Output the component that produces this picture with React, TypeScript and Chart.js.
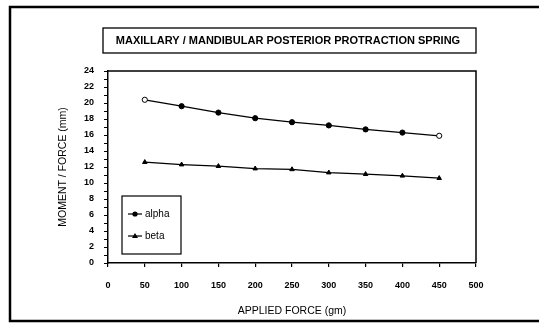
import React, { useEffect, useRef } from "react";
import { Chart, registerables } from "chart.js";

Chart.register(...registerables);

const forces = [50, 100, 150, 200, 250, 300, 350, 400, 450];
const alphaValues = [20.4, 19.6, 18.8, 18.1, 17.6, 17.2, 16.7, 16.3, 15.9];
const betaValues = [12.6, 12.3, 12.1, 11.8, 11.7, 11.3, 11.1, 10.9, 10.6];
const chartTitle = "MAXILLARY / MANDIBULAR POSTERIOR PROTRACTION SPRING";
const xTitle = "APPLIED FORCE (gm)";
const yTitle = "MOMENT / FORCE (mm)";
const seriesNames = ["alpha", "beta"];

const FONT = "'Liberation Sans', Arial, sans-serif";

const decorPlugin = {
  id: "decor",
  beforeDraw(chart: any) {
    const ctx = chart.ctx;
    ctx.save();
    ctx.fillStyle = "#fff";
    ctx.fillRect(0, 0, chart.width, chart.height);
    ctx.restore();
  },
  afterDraw(chart: any) {
    const ctx = chart.ctx;
    const ca = chart.chartArea;
    ctx.save();
    // outer frame
    ctx.strokeStyle = "#000";
    ctx.lineWidth = 2.5;
    ctx.strokeRect(10, 7, 540, 314);
    // plot frame (top & right)
    ctx.lineWidth = 1.5;
    ctx.beginPath();
    ctx.moveTo(ca.left, ca.top);
    ctx.lineTo(ca.right, ca.top);
    ctx.lineTo(ca.right, ca.bottom);
    ctx.stroke();
    // title box
    ctx.lineWidth = 1.3;
    ctx.strokeRect(103, 28, 373, 25);
    ctx.fillStyle = "#000";
    ctx.font = `bold 11px ${FONT}`;
    ctx.textAlign = "center";
    ctx.textBaseline = "middle";
    ctx.fillText(chartTitle, 288, 41);
    // legend
    ctx.lineWidth = 1.2;
    ctx.strokeRect(122, 196, 59, 58);
    const ys = [214, 236];
    const styles = ["circle", "triangle"];
    ctx.font = `10px ${FONT}`;
    ctx.textAlign = "left";
    for (let i = 0; i < 2; i++) {
      const y = ys[i];
      ctx.lineWidth = 1.2;
      ctx.beginPath();
      ctx.moveTo(128, y);
      ctx.lineTo(142, y);
      ctx.stroke();
      ctx.fillStyle = "#000";
      ctx.beginPath();
      if (styles[i] === "circle") {
        ctx.arc(135, y, 2.6, 0, Math.PI * 2);
      } else {
        ctx.moveTo(135, y - 3);
        ctx.lineTo(138, y + 2);
        ctx.lineTo(132, y + 2);
        ctx.closePath();
      }
      ctx.fill();
      ctx.fillText(seriesNames[i], 145, y + 0.5);
    }
    ctx.restore();
  },
};

export default function App() {
  const ref = useRef<HTMLCanvasElement>(null);
  useEffect(() => {
    document.body.style.margin = "0";
    const canvas = ref.current!;
    const chart = new Chart(canvas, {
      type: "line",
      data: {
        datasets: [
          {
            label: seriesNames[0],
            data: forces.map((x, i) => ({ x, y: alphaValues[i] })),
            borderColor: "#000",
            borderWidth: 1.2,
            pointStyle: "circle",
            pointRadius: 2.6,
            pointBorderWidth: 1,
            pointBorderColor: "#000",
            pointBackgroundColor: forces.map((_, i) =>
              i === 0 || i === forces.length - 1 ? "#fff" : "#000"
            ),
            tension: 0,
          },
          {
            label: seriesNames[1],
            data: forces.map((x, i) => ({ x, y: betaValues[i] })),
            borderColor: "#000",
            borderWidth: 1.2,
            pointStyle: "triangle",
            pointRadius: 2.6,
            pointBorderWidth: 1,
            pointBorderColor: "#000",
            pointBackgroundColor: "#000",
            tension: 0,
          },
        ],
      },
      options: {
        responsive: false,
        animation: false,
        devicePixelRatio: 1,
        layout: { padding: { left: 55, top: 71, right: 63, bottom: 4 } },
        plugins: { legend: { display: false }, tooltip: { enabled: false }, title: { display: false } },
        scales: {
          x: {
            type: "linear",
            min: 0,
            max: 500,
            afterFit: (s: any) => {
              s.height = 58;
            },
            ticks: {
              stepSize: 50,
              color: "#000",
              padding: 13,
              maxRotation: 0,
              autoSkip: false,
              font: { family: FONT, size: 9, weight: "bold" },
            },
            grid: {
              drawOnChartArea: false,
              drawTicks: true,
              tickLength: 4,
              color: "#000",
              lineWidth: 1.2,
            },
            border: { display: true, color: "#000", width: 1.5 },
            title: {
              display: true,
              text: xTitle,
              color: "#000",
              padding: { top: 0, bottom: 4 },
              font: { family: FONT, size: 10.5 },
            },
          },
          y: {
            type: "linear",
            min: 0,
            max: 24,
            afterFit: (s: any) => {
              s.width = 53;
            },
            ticks: {
              stepSize: 1,
              autoSkip: false,
              color: "#000",
              padding: 10,
              font: { family: FONT, size: 9, weight: "bold" },
              callback: (v: any) => (Number(v) % 2 === 0 ? String(v) : ""),
            },
            grid: {
              drawOnChartArea: false,
              drawTicks: true,
              tickLength: 4,
              color: "#000",
              lineWidth: 1,
            },
            border: { display: true, color: "#000", width: 1.5 },
            title: {
              display: true,
              text: yTitle,
              color: "#000",
              padding: { top: 2, bottom: 0 },
              font: { family: FONT, size: 10.5 },
            },
          },
        },
      },
      plugins: [decorPlugin],
    } as any);
    return () => chart.destroy();
  }, []);
  return (
    <div style={{ position: "fixed", left: 0, top: 0, width: 539, height: 325 }}>
      <canvas ref={ref} width={539} height={325} style={{ width: 539, height: 325, display: "block" }} />
    </div>
  );
}
